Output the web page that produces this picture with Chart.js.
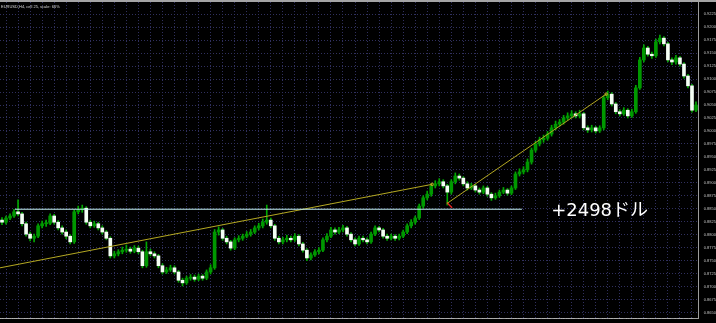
<!DOCTYPE html>
<html lang="ja">
<head>
  <meta charset="UTF-8">
  <title>EURUSD H4</title>
  <script src="https://cdn.jsdelivr.net/npm/chart.js"></script>
  <style>
    html, body { margin: 0; padding: 0; background: #000; overflow: hidden; }
    #topbar { height: 2px; background: #a4a4a4; width: 716px; }
    #wrap { width: 716px; height: 321px; }
  </style>
</head>
<body>
  <div id="topbar"></div>
  <div id="wrap"><canvas id="chart" width="716" height="321"></canvas></div>

  <script>
    // H4 candles (index 0 = leftmost bar)
    const openP = [
      0.8828,0.8824,0.8832,0.8836,0.8844,0.8840,0.8821,0.8801,0.8793,0.8797,
      0.8817,0.8821,0.8822,0.8836,0.8824,0.8813,0.8805,0.8797,0.8786,0.8844,
      0.8848,0.8851,0.8824,0.8817,0.8821,0.8813,0.8805,0.8793,0.8759,0.8763,
      0.8767,0.8770,0.8772,0.8768,0.8774,0.8767,0.8740,0.8767,0.8763,0.8759,
      0.8740,0.8728,0.8732,0.8736,0.8728,0.8712,0.8707,0.8716,0.8718,0.8714,
      0.8720,0.8716,0.8728,0.8736,0.8805,0.8809,0.8793,0.8786,0.8774,0.8790,
      0.8793,0.8797,0.8801,0.8805,0.8813,0.8817,0.8824,0.8828,0.8817,0.8793,
      0.8786,0.8790,0.8793,0.8790,0.8797,0.8782,0.8770,0.8755,0.8761,0.8767,
      0.8770,0.8790,0.8797,0.8809,0.8805,0.8809,0.8813,0.8801,0.8790,0.8782,
      0.8793,0.8790,0.8786,0.8801,0.8813,0.8809,0.8797,0.8793,0.8797,0.8793,
      0.8797,0.8805,0.8817,0.8824,0.8832,0.8855,0.8871,0.8878,0.8894,0.8898,
      0.8902,0.8894,0.8882,0.8902,0.8913,0.8909,0.8898,0.8890,0.8894,0.8886,
      0.8882,0.8890,0.8878,0.8871,0.8875,0.8882,0.8886,0.8880,0.8890,0.8917,
      0.8921,0.8925,0.8940,0.8963,0.8975,0.8983,0.8986,0.8994,0.9006,0.9013,
      0.9017,0.9025,0.9029,0.9033,0.9029,0.9033,0.9006,0.9002,0.9006,0.9000,
      0.9006,0.9064,0.9071,0.9052,0.9037,0.9033,0.9040,0.9029,0.9037,0.9083,
      0.9137,0.9160,0.9148,0.9145,0.9172,0.9179,0.9168,0.9137,0.9133,0.9141,
      0.9129,0.9106,0.9087,0.9040
    ];
    const highP = [
      0.8833,0.8836,0.8840,0.8849,0.8867,0.8843,0.8824,0.8805,0.8801,0.8821,
      0.8826,0.8828,0.8840,0.8839,0.8827,0.8817,0.8809,0.8800,0.8848,0.8855,
      0.8857,0.8854,0.8828,0.8826,0.8824,0.8817,0.8808,0.8796,0.8768,0.8771,
      0.8776,0.8780,0.8776,0.8779,0.8778,0.8770,0.8786,0.8772,0.8767,0.8762,
      0.8744,0.8737,0.8741,0.8740,0.8731,0.8716,0.8720,0.8723,0.8722,0.8724,
      0.8723,0.8732,0.8742,0.8810,0.8815,0.8812,0.8797,0.8789,0.8794,0.8798,
      0.8801,0.8806,0.8810,0.8817,0.8822,0.8830,0.8857,0.8832,0.8820,0.8797,
      0.8795,0.8799,0.8797,0.8802,0.8800,0.8785,0.8773,0.8765,0.8771,0.8775,
      0.8794,0.8802,0.8814,0.8813,0.8814,0.8818,0.8816,0.8804,0.8794,0.8797,
      0.8797,0.8794,0.8805,0.8817,0.8816,0.8812,0.8801,0.8801,0.8800,0.8801,
      0.8809,0.8821,0.8829,0.8836,0.8859,0.8875,0.8884,0.8898,0.8904,0.8908,
      0.8906,0.8897,0.8906,0.8919,0.8917,0.8912,0.8902,0.8899,0.8897,0.8890,
      0.8894,0.8893,0.8881,0.8880,0.8886,0.8891,0.8889,0.8894,0.8921,0.8927,
      0.8931,0.8946,0.8967,0.8980,0.8988,0.8992,0.8999,0.9011,0.9019,0.9022,
      0.9030,0.9035,0.9039,0.9037,0.9040,0.9036,0.9010,0.9011,0.9009,0.9010,
      0.9068,0.9077,0.9074,0.9055,0.9041,0.9045,0.9043,0.9042,0.9088,0.9142,
      0.9166,0.9163,0.9152,0.9177,0.9185,0.9182,0.9171,0.9141,0.9146,0.9144,
      0.9132,0.9109,0.9090,0.9056
    ];
    const lowP = [
      0.8819,0.8820,0.8829,0.8833,0.8836,0.8817,0.8797,0.8788,0.8786,0.8794,
      0.8813,0.8816,0.8819,0.8820,0.8809,0.8801,0.8792,0.8782,0.8783,0.8840,
      0.8843,0.8820,0.8813,0.8814,0.8809,0.8801,0.8790,0.8755,0.8755,0.8759,
      0.8763,0.8766,0.8764,0.8765,0.8763,0.8736,0.8737,0.8759,0.8755,0.8736,
      0.8724,0.8725,0.8729,0.8724,0.8708,0.8701,0.8704,0.8712,0.8710,0.8711,
      0.8712,0.8713,0.8724,0.8733,0.8799,0.8789,0.8782,0.8770,0.8771,0.8786,
      0.8789,0.8794,0.8797,0.8802,0.8809,0.8813,0.8820,0.8813,0.8789,0.8782,
      0.8782,0.8786,0.8786,0.8787,0.8778,0.8766,0.8750,0.8751,0.8758,0.8763,
      0.8767,0.8786,0.8794,0.8801,0.8802,0.8805,0.8797,0.8786,0.8778,0.8779,
      0.8786,0.8782,0.8783,0.8798,0.8805,0.8793,0.8789,0.8790,0.8789,0.8790,
      0.8794,0.8802,0.8813,0.8820,0.8829,0.8851,0.8867,0.8874,0.8890,0.8894,
      0.8890,0.8857,0.8878,0.8898,0.8905,0.8894,0.8886,0.8887,0.8882,0.8878,
      0.8879,0.8874,0.8866,0.8868,0.8872,0.8879,0.8876,0.8877,0.8887,0.8913,
      0.8917,0.8921,0.8936,0.8959,0.8971,0.8978,0.8982,0.8990,0.9002,0.9009,
      0.9013,0.9021,0.9025,0.9025,0.9025,0.9002,0.8997,0.8998,0.8996,0.8997,
      0.9002,0.9060,0.9048,0.9033,0.9029,0.9030,0.9025,0.9026,0.9034,0.9080,
      0.9133,0.9144,0.9140,0.9142,0.9168,0.9164,0.9133,0.9128,0.9129,0.9125,
      0.9102,0.9083,0.9036,0.9037
    ];
    const closeP = [
      0.8824,0.8832,0.8836,0.8844,0.8840,0.8821,0.8801,0.8793,0.8797,0.8817,
      0.8821,0.8822,0.8836,0.8824,0.8813,0.8805,0.8797,0.8786,0.8844,0.8848,
      0.8851,0.8824,0.8817,0.8821,0.8813,0.8805,0.8793,0.8759,0.8763,0.8767,
      0.8770,0.8772,0.8768,0.8774,0.8767,0.8740,0.8767,0.8763,0.8759,0.8740,
      0.8728,0.8732,0.8736,0.8728,0.8712,0.8707,0.8716,0.8718,0.8714,0.8720,
      0.8716,0.8728,0.8736,0.8805,0.8809,0.8793,0.8786,0.8774,0.8790,0.8793,
      0.8797,0.8801,0.8805,0.8813,0.8817,0.8824,0.8828,0.8817,0.8793,0.8786,
      0.8790,0.8793,0.8790,0.8797,0.8782,0.8770,0.8755,0.8761,0.8767,0.8770,
      0.8790,0.8797,0.8809,0.8805,0.8809,0.8813,0.8801,0.8790,0.8782,0.8793,
      0.8790,0.8786,0.8801,0.8813,0.8809,0.8797,0.8793,0.8797,0.8793,0.8797,
      0.8805,0.8817,0.8824,0.8832,0.8855,0.8871,0.8878,0.8894,0.8898,0.8902,
      0.8894,0.8882,0.8902,0.8913,0.8909,0.8898,0.8890,0.8894,0.8886,0.8882,
      0.8890,0.8878,0.8871,0.8875,0.8882,0.8886,0.8880,0.8890,0.8917,0.8921,
      0.8925,0.8940,0.8963,0.8975,0.8983,0.8986,0.8994,0.9006,0.9013,0.9017,
      0.9025,0.9029,0.9033,0.9029,0.9033,0.9006,0.9002,0.9006,0.9000,0.9006,
      0.9064,0.9071,0.9052,0.9037,0.9033,0.9040,0.9029,0.9037,0.9083,0.9137,
      0.9160,0.9148,0.9145,0.9172,0.9179,0.9168,0.9137,0.9133,0.9141,0.9129,
      0.9106,0.9087,0.9040,0.9050
    ];

    // price scale labels on the right
    const priceTicks = [
      0.8650,0.8675,0.8700,0.8725,0.8750,0.8775,0.8800,0.8825,0.8850,0.8875,0.8900,0.8925,
      0.8950,0.8975,0.9000,0.9025,0.9050,0.9075,0.9100,0.9125,0.9150,0.9175,0.9200,0.9225
    ];
    // one label every 6 bars
    const dateLabels = [
      "22 Jan 2014","23 Jan 00:00","24 Jan 00:00","27 Jan 00:00","28 Jan 00:00","29 Jan 00:00",
      "30 Jan 00:00","31 Jan 00:00","3 Feb 00:00","4 Feb 00:00","5 Feb 00:00","6 Feb 00:00",
      "7 Feb 00:00","10 Feb 00:00","11 Feb 00:00","12 Feb 00:00","13 Feb 00:00","14 Feb 00:00",
      "17 Feb 00:00","18 Feb 00:00","19 Feb 00:00","20 Feb 00:00","21 Feb 00:00","24 Feb 00:00",
      "25 Feb 00:00","26 Feb 00:00","27 Feb 00:00","28 Feb 00:00","3 Mar 00:00"
    ];

    // drawn objects: [bar index, price]
    const trendLine1 = [[-0.5, 0.8736], [107.2, 0.8897]];
    const trendLine2 = [[110.9, 0.8860], [150.6, 0.9071]];
    const levelLine = [[3.25, 0.8849], [129.6, 0.8849]];
    const entryArrow = [[110.9, 0.8862], [112.2, 0.8852]];
    const profitText = "+2498ドル";
    const profitAt = [136.9, 0.8845];
    const symbolText = "EURUSD,H4, cell 25, scale: 66%";

    const gridColor = '#30305e';
    const n = closeP.length;
    const wickData = closeP.map((c, i) => ({ x: i, y: [lowP[i], highP[i]] }));
    const bodyData = closeP.map((c, i) => ({ x: i, y: [openP[i], c] }));
    const bodyColors = closeP.map((c, i) => c >= openP[i] ? '#009800' : '#f4fff4');
    const toXY = arr => arr.map(p => ({ x: p[0], y: p[1] }));

    const gridSlots = [];
    for (let k = 0; k * 3 - 0.5 < n - 0.5; k++) gridSlots.push(k * 3 - 0.5);

    const textPlugin = {
      id: 'mtText',
      afterDatasetsDraw(chart) {
        const { ctx, scales: { x, y }, chartArea } = chart;
        ctx.save();
        ctx.fillStyle = '#ffffff';
        ctx.font = '18px "DejaVu Sans", "Noto Sans CJK JP"';
        ctx.textBaseline = 'middle';
        ctx.textAlign = 'left';
        ctx.fillText(profitText, x.getPixelForValue(profitAt[0]), y.getPixelForValue(profitAt[1]));
        ctx.font = '4px "Liberation Sans"';
        ctx.fillStyle = '#d8d8d8';
        ctx.textBaseline = 'top';
        ctx.fillText(symbolText, chartArea.left + 1, chartArea.top + 3);
        ctx.restore();
      }
    };

    new Chart(document.getElementById('chart'), {
      type: 'bar',
      data: {
        datasets: [
          { type: 'line', data: toXY(levelLine), borderColor: '#c4f2f4', borderWidth: 1, pointRadius: 0, order: 0 },
          { type: 'line', data: toXY(trendLine1), borderColor: '#b4a822', borderWidth: 1, pointRadius: [0, 1.5], pointStyle: 'rect', pointBorderColor: '#b4a822', pointBackgroundColor: 'transparent', order: 0 },
          { type: 'line', data: toXY(trendLine2), borderColor: '#b4a822', borderWidth: 1, pointRadius: [0, 1.5], pointStyle: 'rect', pointBorderColor: '#b4a822', pointBackgroundColor: 'transparent', order: 0 },
          { type: 'line', data: toXY(entryArrow), borderColor: '#e02020', borderWidth: 1.5, pointRadius: 0, order: 0 },
          { type: 'bar', data: bodyData, backgroundColor: bodyColors, barThickness: 3, grouped: false, minBarLength: 1, order: 2 },
          { type: 'bar', data: wickData, backgroundColor: '#00a800', barThickness: 1, grouped: false, order: 3 }
        ]
      },
      options: {
        responsive: false,
        animation: false,
        devicePixelRatio: 1,
        events: [],
        layout: { padding: 0, autoPadding: false },
        plugins: { legend: { display: false }, tooltip: { enabled: false } },
        scales: {
          x: {
            type: 'linear', min: -0.5, max: n - 0.5, offset: false,
            afterBuildTicks: s => { s.ticks = gridSlots.map(v => ({ value: v })); },
            afterFit: s => { s.height = 5; },
            grid: { color: gridColor, drawTicks: false },
            border: { display: true, color: '#9c9c9c', width: 1, dash: [1, 2] },
            ticks: {
              autoSkip: false, maxRotation: 0, minRotation: 0, align: 'start', padding: 0,
              color: '#c8c8c8', font: { family: 'Liberation Sans', size: 3.6, lineHeight: 0 },
              callback: (v, i) => i % 2 === 0 ? (dateLabels[i / 2] || '') : ''
            }
          },
          y: {
            type: 'linear', position: 'right', min: 0.86392, max: 0.92487,
            afterBuildTicks: s => { s.ticks = priceTicks.map(v => ({ value: v })); },
            afterFit: s => { s.width = 18; },
            grid: { color: gridColor, drawTicks: false },
            border: { display: true, color: '#9c9c9c', width: 1, dash: [1, 2] },
            ticks: {
              padding: 0, crossAlign: 'far', color: '#c4c4c4',
              font: { family: 'Liberation Sans', size: 4, lineHeight: 0 },
              callback: v => v.toFixed(4)
            }
          }
        }
      },
      plugins: [textPlugin]
    });
  </script>
</body>
</html>
